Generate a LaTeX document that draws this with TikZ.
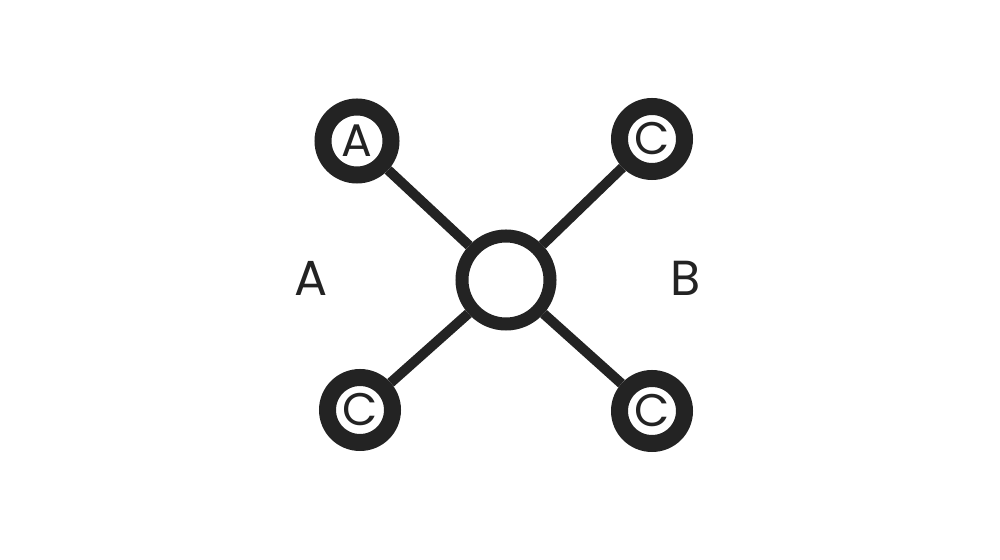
\documentclass[tikz,border=0pt]{standalone}
\usepackage{fontspec}
\setmainfont{Poppins}
\usepackage{xcolor}
\usetikzlibrary{arrows,positioning}

\definecolor{ink}{HTML}{232323}

\begin{document}
\begin{tikzpicture}[-,auto,
  hub/.style={circle,draw=ink,fill=white,line width=0.26cm,minimum size=1.76cm,inner sep=0pt},
  leaf/.style={circle,draw=ink,fill=white,line width=0.34cm,minimum size=1.3cm,inner sep=0pt,
    text=ink,font=\fontsize{26}{26}\selectfont},
  side/.style={text=ink,font=\fontsize{28}{28}\selectfont},
  link/.style={draw=ink,line width=0.2cm}]

\useasboundingbox (0,0) rectangle (20,11.2);

\node[hub] (H) at (10.12,5.6) {};
\node[leaf, minimum size=1.36cm] (L_tl) at (7.14,8.38) {A};
\node[leaf] (L_tr) at (13.04,8.42) {C};
\node[leaf] (L_bl) at (7.2,3.0) {C};
\node[leaf] (L_br) at (13.04,2.98) {C};

\node[side] (S_a) at (6.22,5.64) {A};
\node[side] (S_b) at (13.72,5.64) {B};

\path[link]
  (H) edge (L_tl)
  (H) edge (L_tr)
  (H) edge (L_bl)
  (H) edge (L_br)
;
\end{tikzpicture}
\end{document}
